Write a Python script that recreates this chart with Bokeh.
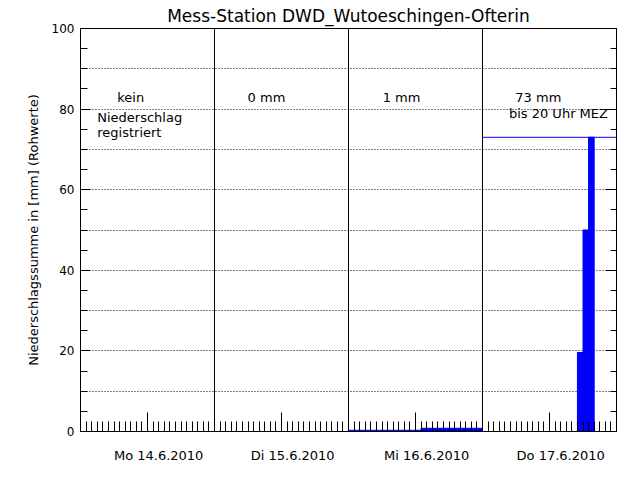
from bokeh.plotting import figure
from bokeh.models import FixedTicker, LinearAxis, Span, Grid, CustomLabelingPolicy
from bokeh.core.properties import value
from bokeh.embed import file_html
from bokeh.resources import INLINE

title = "Mess-Station DWD_Wutoeschingen-Ofterin"
ylabel = "Niederschlagssumme in [mm] (Rohwerte)"
day_labels = ["Mo 14.6.2010", "Di 15.6.2010", "Mi 16.6.2010", "Do 17.6.2010"]

# hourly precipitation sums (hour index counted from 14.6.2010 00:00)
hours_day2 = [24, 25, 26, 27, 28, 29, 30, 31, 32, 33, 34, 35,
              36, 37, 38, 39, 40, 41, 42, 43, 44, 45, 46, 47]
values_day2 = [0, 0, 0, 0, 0, 0, 0, 0, 0, 0, 0, 0,
               0, 0, 0, 0, 0, 0, 0, 0, 0, 0, 0, 0]
hours_day3 = [48, 49, 50, 51, 52, 53, 54, 55, 56, 57, 58, 59,
              60, 61, 62, 63, 64, 65, 66, 67, 68, 69, 70, 71]
values_day3 = [0.3, 0.3, 0.3, 0.3, 0.3, 0.3, 0.3, 0.3, 0.3, 0.3, 0.3, 0.3,
               0.3, 0.8, 0.8, 0.8, 0.8, 0.8, 0.8, 0.8, 0.8, 0.8, 0.8, 0.8]
hours_day4 = [89, 90, 91]
values_day4 = [19.6, 50.0, 73.0]

# per-day annotations
note_texts = ["kein", "Niederschlag", "registriert", "0 mm", "1 mm", "73 mm", "bis 20 Uhr MEZ"]
note_x = [9.0, 3.0, 3.0, 33.3, 57.5, 82.0, 85.6]
note_y = [83.0, 78.0, 74.3, 83.0, 83.0, 83.0, 78.8]
note_align = ["center", "left", "left", "center", "center", "center", "center"]

FONT = "DejaVu Sans"
NO_LABELS = CustomLabelingPolicy(code="return new indices.constructor(indices.size)")

p = figure(width=632, height=472, x_range=(0, 96), y_range=(0, 100),
           x_axis_type=None, y_axis_type=None,
           output_backend="svg", toolbar_location=None,
           min_border_left=80, min_border_right=16,
           min_border_top=28, min_border_bottom=41,
           background_fill_color="white", border_fill_color="white")
p.outline_line_color = "black"
p.outline_line_width = 1

p.title.text = title
p.title.align = "center"
p.title.text_font = FONT
p.title.text_font_size = "17px"
p.title.text_font_style = "normal"
p.title.text_color = "black"
p.title.standoff = 5
p.title.offset = 0

# left axis
left = LinearAxis(ticker=FixedTicker(ticks=[0, 20, 40, 60, 80, 100],
                                     minor_ticks=list(range(0, 101, 5))))
left.axis_label = ylabel
left.axis_label_text_font = FONT
left.axis_label_text_font_size = "13px"
left.axis_label_text_font_style = "normal"
left.axis_label_text_color = "black"
left.axis_label_standoff = 8
left.major_label_text_font = FONT
left.major_label_text_font_size = "12px"
left.major_label_text_color = "black"
left.major_label_standoff = 6
left.major_tick_in = 10
left.major_tick_out = 0
left.minor_tick_in = 7
left.minor_tick_out = 0
left.axis_line_color = "black"
p.add_layout(left, "left")

right = LinearAxis(ticker=FixedTicker(ticks=[0, 20, 40, 60, 80, 100],
                                      minor_ticks=list(range(0, 101, 5))))
right.major_label_policy = NO_LABELS
right.major_label_text_font_size = "1px"
right.major_label_standoff = 0
right.major_tick_in = 11
right.major_tick_out = 0
right.minor_tick_in = 6
right.minor_tick_out = 0
right.axis_line_color = "black"
p.add_layout(right, "right")

# bottom tick axis (hourly ticks, long tick at noon)
b1 = LinearAxis(ticker=FixedTicker(ticks=[12, 36, 60, 84], minor_ticks=list(range(0, 97))))
b1.major_label_policy = NO_LABELS
b1.major_label_text_font_size = "1px"
b1.major_label_standoff = 0
b1.major_tick_in = 19
b1.major_tick_out = 0
b1.minor_tick_in = 10
b1.minor_tick_out = 0
b1.axis_line_color = "black"
p.add_layout(b1, "below")

# bottom label axis
label_pos = [d * 24 + 14 for d in range(len(day_labels))]
b2 = LinearAxis(ticker=FixedTicker(ticks=label_pos))
b2.major_label_overrides = {pos: lab for pos, lab in zip(label_pos, day_labels)}
b2.axis_line_color = None
b2.major_tick_line_color = None
b2.minor_tick_line_color = None
b2.major_tick_in = 0
b2.major_tick_out = 0
b2.major_label_standoff = 12
b2.major_label_text_font = FONT
b2.major_label_text_font_size = "13px"
b2.major_label_text_color = "black"
p.add_layout(b2, "below")

# dotted horizontal grid
p.add_layout(Grid(dimension=1, ticker=FixedTicker(ticks=[10, 20, 30, 40, 50, 60, 70, 80, 90]),
                  grid_line_color="black", grid_line_dash="1 2", grid_line_width=1))

# day separators
for d in range(1, len(day_labels)):
    p.add_layout(Span(location=d * 24, dimension="height", line_color="black", line_width=1))

# bars
for hrs, vals in [(hours_day2, values_day2), (hours_day3, values_day3), (hours_day4, values_day4)]:
    p.vbar(x=[h + 0.5 for h in hrs], width=1, top=vals, bottom=0,
           fill_color="#0000ff", line_color="#0000ff", line_width=1)

# final total line for day 4
total4 = max(values_day4)
p.segment(x0=[72], x1=[96], y0=[total4], y1=[total4], line_color="#0000ff", line_width=1)

# annotations
for t, x, y, a in zip(note_texts, note_x, note_y, note_align):
    p.text(x=[x], y=[y], text=[t], text_align=a, text_baseline="middle",
           text_font=value(FONT), text_font_size="13px", text_color="black")

open("out.html", "w").write(file_html(p, INLINE))
